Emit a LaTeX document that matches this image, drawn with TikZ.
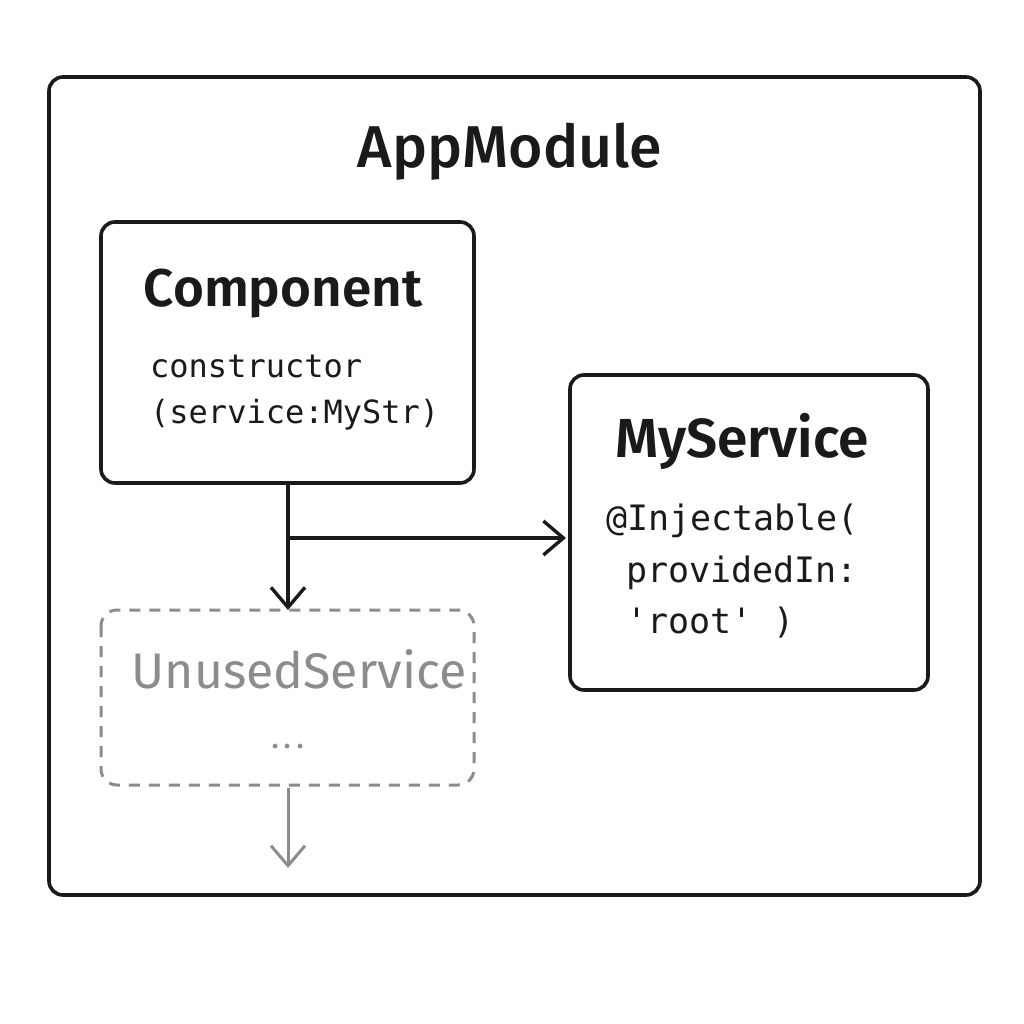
\documentclass[tikz,border=0pt]{standalone}
\usepackage{fontspec}
\setmainfont{Fira Sans}[BoldFont={Fira Sans SemiBold}]
\newfontfamily\medf{Fira Sans Medium}
\newfontfamily\monof{DejaVu Sans Mono}
\usetikzlibrary{arrows.meta}
\definecolor{ink}{HTML}{1A1A1A}
\definecolor{ghost}{HTML}{8C8C8C}
\tikzset{
  box/.style={draw=ink, line width=3.6pt, rounded corners=14pt},
  ghostbox/.style={draw=ghost, line width=3pt, rounded corners=16pt, dash pattern=on 11pt off 9pt},
  title/.style={anchor=base, inner sep=0pt, text=ink},
  code/.style={anchor=base west, inner sep=0pt, text=ink, font=\monof\fontsize{32}{38}\selectfont},
  arr/.style={draw=ink, line width=3.4pt, -{Straight Barb[length=20pt,width=34pt,line width=3.4pt]}},
  garr/.style={draw=ghost, line width=3pt, -{Straight Barb[length=20pt,width=34pt,line width=3pt]}},
}
\begin{document}
\begin{tikzpicture}[x=1pt,y=-1pt]
\useasboundingbox[fill=white] (0,0) rectangle (1024,1024);
\draw[box] (49,77) rectangle (980,895);
\node[title, font=\medf\fontsize{59}{66}\selectfont] (app) at (510,168) {AppModule};

\draw[box] (101,222) rectangle (474,483);
\coordinate (compS) at (288,483);
\node[title, font=\bfseries\fontsize{53}{60}\selectfont] (comp) at (283,306) {Component};
\node[code] (c1) at (150,377) {constructor};
\node[code] (c2) at (150,423) {(service:MyStr)};

\draw[box] (570,375) rectangle (928,690);
\coordinate (svcW) at (566,538);
\node[title, font=\bfseries\fontsize{55}{62}\selectfont] (svc) at (742,457) {MyService};
\node[code, font=\monof\fontsize{35}{40}\selectfont] (s1) at (606,530) {@Injectable(};
\node[code, font=\monof\fontsize{35}{40}\selectfont] (s2) at (626,582) {providedIn:};
\node[code, font=\monof\fontsize{35}{40}\selectfont] (s3) at (626,633) {'root' )};

\draw[ghostbox] (101,610) rectangle (474,785);
\coordinate (unN) at (288,610);
\coordinate (unS) at (288,788);
\coordinate (tail) at (288,868);
\node[title, text=ghost, font=\fontsize{50}{56}\selectfont] (un) at (299,688) {UnusedService};
\node[title, text=ghost, font=\fontsize{34}{36}\selectfont] (dots) at (288,748) {.\kern4pt.\kern4pt.};

\coordinate (br) at (288,538);
\draw[arr] (compS) -- (unN);
\draw[arr] (br) -- (svcW);
\draw[garr] (unS) -- (tail);
\end{tikzpicture}
\end{document}
